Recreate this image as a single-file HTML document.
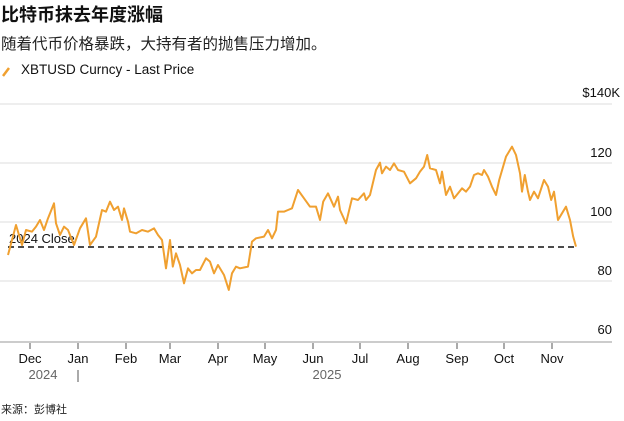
<!DOCTYPE html>
<html><head><meta charset="utf-8"><style>
body{margin:0;width:624px;height:416px;background:#fff;overflow:hidden;font-family:"Liberation Sans","Noto Sans CJK SC",sans-serif;}
</style></head><body>
<svg width="624" height="416" viewBox="0 0 624 416" xmlns="http://www.w3.org/2000/svg" font-family="Liberation Sans, Noto Sans CJK SC, sans-serif">
<text x="1" y="21" font-size="18" font-weight="bold" fill="#111">比特币抹去年度涨幅</text>
<text x="1" y="49" font-size="15.5" fill="#222">随着代币价格暴跌，大持有者的抛售压力增加。</text>
<line x1="3" y1="76" x2="9" y2="68" stroke="#f0a030" stroke-width="2.5"/>
<text x="21" y="74" font-size="13.5" fill="#111">XBTUSD Curncy - Last Price</text>
<g stroke="#ddd" stroke-width="1">
<line x1="0" y1="104" x2="612" y2="104"/>
<line x1="0" y1="163" x2="612" y2="163"/>
<line x1="0" y1="222" x2="612" y2="222"/>
<line x1="0" y1="281" x2="612" y2="281"/>
</g>
<line x1="0" y1="342" x2="612" y2="342" stroke="#ccc" stroke-width="2"/>
<g font-size="13" fill="#111" text-anchor="end">
<text x="620" y="97">$140K</text>
<text x="612" y="157">120</text>
<text x="612" y="216">100</text>
<text x="612" y="275">80</text>
<text x="612" y="334">60</text>
</g>
<g stroke="#555" stroke-width="1">
<line x1="30" y1="343" x2="30" y2="349"/><line x1="78" y1="343" x2="78" y2="349"/>
<line x1="126" y1="343" x2="126" y2="349"/><line x1="170" y1="343" x2="170" y2="349"/>
<line x1="218" y1="343" x2="218" y2="349"/><line x1="265" y1="343" x2="265" y2="349"/>
<line x1="313" y1="343" x2="313" y2="349"/><line x1="360" y1="343" x2="360" y2="349"/>
<line x1="408" y1="343" x2="408" y2="349"/><line x1="457" y1="343" x2="457" y2="349"/>
<line x1="504" y1="343" x2="504" y2="349"/><line x1="552" y1="343" x2="552" y2="349"/>
<line x1="78" y1="370" x2="78" y2="382"/>
</g>
<g font-size="13" fill="#111" text-anchor="middle">
<text x="30" y="363">Dec</text><text x="78" y="363">Jan</text><text x="126" y="363">Feb</text>
<text x="170" y="363">Mar</text><text x="218" y="363">Apr</text><text x="265" y="363">May</text>
<text x="313" y="363">Jun</text><text x="360" y="363">Jul</text><text x="408" y="363">Aug</text>
<text x="457" y="363">Sep</text><text x="504" y="363">Oct</text><text x="552" y="363">Nov</text>
</g>
<g font-size="13" fill="#666" text-anchor="middle">
<text x="43" y="379">2024</text><text x="327" y="379">2025</text>
</g>
<text x="1" y="413" font-size="11" fill="#222">来源：彭博社</text>
<line x1="8" y1="247" x2="576" y2="247" stroke="#111" stroke-width="1.6" stroke-dasharray="6,4"/>
<text x="9" y="243" font-size="13" fill="#111">2024 Close</text>
<g transform="translate(0,130) scale(0.4,0.3333)">
<polyline fill="none" stroke="#f0a030" stroke-width="2" vector-effect="non-scaling-stroke" stroke-linejoin="round" points="20,375 40,285 55,345 65,300 80,305 90,290 100,270 110,300 120,265 135,220 140,280 150,315 160,290 170,300 185,345 200,295 215,265 225,345 240,320 255,240 265,245 275,215 285,240 295,230 305,270 310,235 320,275 325,305 340,310 355,300 370,305 385,295 395,315 405,330 415,415 425,330 432,410 440,370 450,405 460,460 470,415 480,430 490,420 500,420 515,385 525,395 535,430 545,405 560,435 572,480 580,430 590,410 600,415 620,410 630,335 640,325 660,320 670,300 680,325 690,300 695,245 710,245 720,240 730,235 745,180 760,205 775,230 790,230 800,270 808,215 820,190 835,230 845,200 850,240 865,280 880,205 895,210 910,190 915,210 925,195 940,120 950,98 955,130 965,110 975,120 985,100 995,120 1010,125 1025,160 1040,145 1050,125 1060,110 1068,75 1075,115 1090,120 1100,160 1105,125 1115,195 1125,170 1135,205 1145,190 1155,175 1165,185 1175,170 1185,135 1195,130 1205,135 1210,120 1220,140 1230,170 1240,195 1248,150 1265,80 1280,50 1290,75 1300,130 1305,185 1312,135 1320,185 1325,210 1335,185 1345,205 1360,150 1370,170 1378,210 1385,185 1395,270 1405,250 1415,230 1425,270 1433,320 1440,350"/>
</g>
</svg>
</body></html>
